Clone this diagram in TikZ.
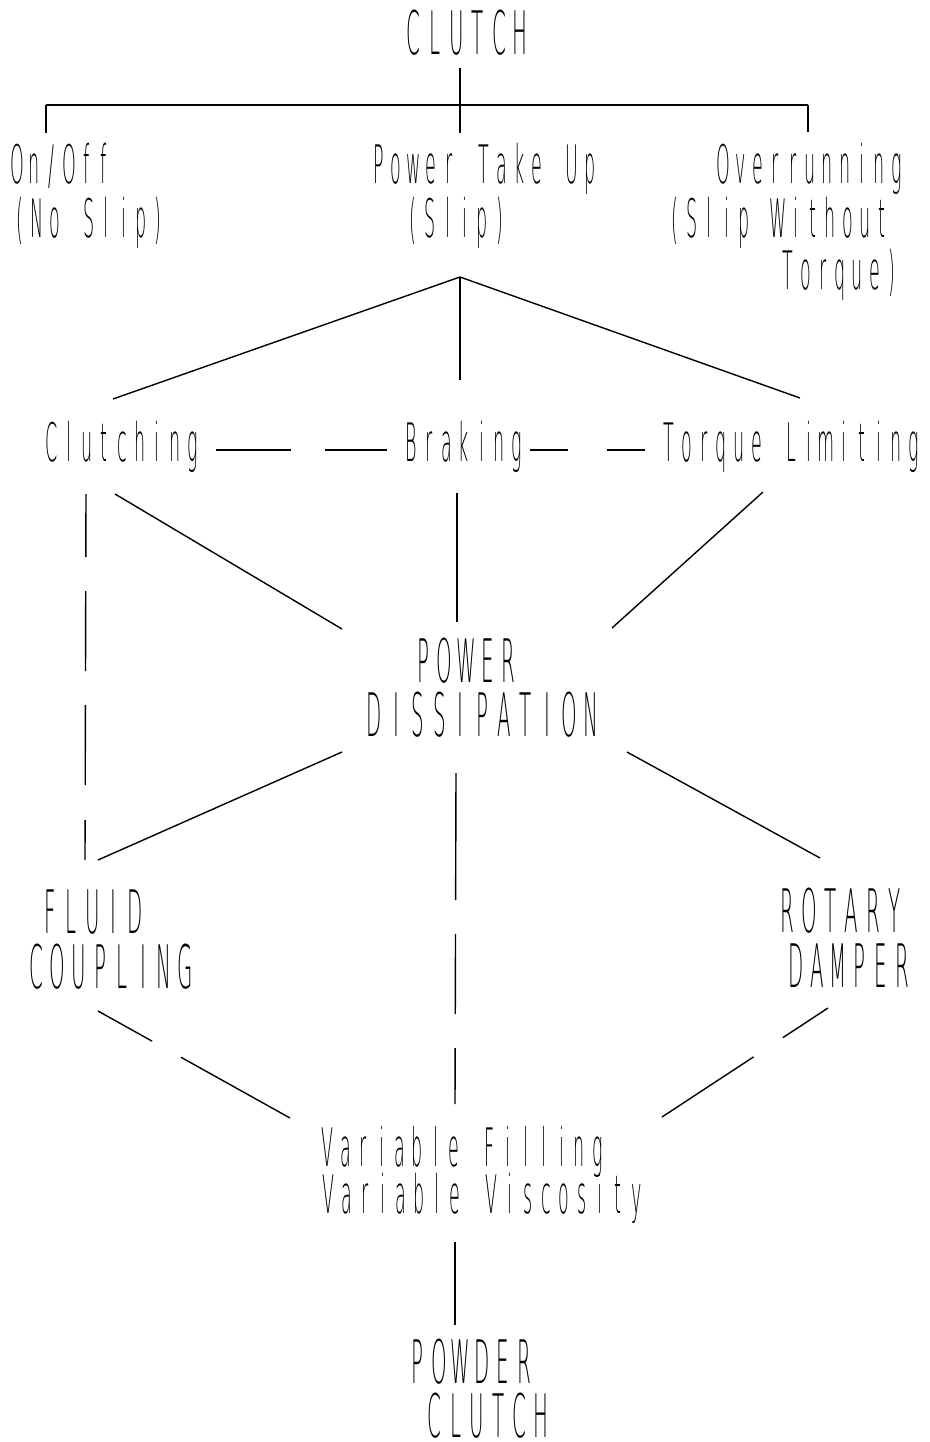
\documentclass[tikz,border=0pt]{standalone}
\usepackage{fontspec}
\newfontfamily\plotfont{DejaVu Sans ExtraLight}[FakeStretch=0.33]
\ExplSyntaxOn
\NewDocumentCommand\mono{mm}{\tl_map_inline:nn{#2}{\makebox[#1][c]{##1}}}
\ExplSyntaxOff
\begin{document}
\begin{tikzpicture}[x=1pt,y=-1pt,
  sm/.style={inner sep=0pt, anchor=base, font=\plotfont\fontsize{53}{60}\selectfont},
  bg/.style={inner sep=0pt, anchor=base, text height=44pt, text depth=0pt, font=\plotfont\fontsize{60}{66}\selectfont},
  ln/.style={line width=1.4pt, line cap=butt}]
\useasboundingbox (0,0) rectangle (929,1442);
% text nodes
\node[bg] (clutch) at (467,55) {\mono{21.3pt}{CLUTCH}};
\node[sm] (onoff1) at (60.5,184) {\mono{17.3pt}{On/Off}};
\node[sm] (onoff2) at (89,237) {\mono{17.3pt}{(No~Slip)}};
\node[sm] (pto1) at (484,184) {\mono{17.6pt}{Power~Take~Up}};
\node[sm] (pto2) at (456.5,237) {\mono{17.3pt}{(Slip)}};
\node[sm] (over1) at (810,184) {\mono{17.3pt}{Overrunning}};
\node[sm] (over2) at (778.5,237) {\mono{17.3pt}{(Slip~Without}};
\node[sm] (over3) at (840,289) {\mono{17.3pt}{Torque)}};
\node[sm] (clutching) at (122,461) {\mono{17.6pt}{Clutching}};
\node[sm] (braking) at (464,461) {\mono{17.6pt}{Braking}};
\node[sm] (torque) at (791.5,461) {\mono{17.5pt}{Torque~Limiting}};
\node[bg] (pd1) at (466,682) {\mono{21.3pt}{POWER}};
\node[bg] (pd2) at (482.5,736) {\mono{21.6pt}{DISSIPATION}};
\node[bg] (fc1) at (92.5,933) {\mono{21.3pt}{FLUID}};
\node[bg] (fc2) at (111,988) {\mono{21.3pt}{COUPLING}};
\node[bg] (rd1) at (841,932) {\mono{21.3pt}{ROTARY}};
\node[bg] (rd2) at (849,987) {\mono{21.3pt}{DAMPER}};
\node[sm, text depth=0pt] (var1) at (462.5,1166) {\mono{18pt}{Variable~Filling}};
\node[sm] (var2) at (482.5,1213) {\mono{18.1pt}{Variable~Viscosity}};
\node[bg] (pc1) at (471,1383) {\mono{21.3pt}{POWDER}};
\node[bg] (pc2) at (487.5,1437) {\mono{21.3pt}{CLUTCH}};
% connector end points
\coordinate (clutchS) at (460,68);
\coordinate (junc) at (460,105);
\coordinate (jl) at (46,105);
\coordinate (jr) at (808,105);
\coordinate (onoffN) at (46,133);
\coordinate (ptoN) at (460,133);
\coordinate (overN) at (808,132);
\coordinate (ptoS) at (460,277);
\coordinate (clutchingN) at (113,399);
\coordinate (brakingN) at (460,380);
\coordinate (torqueN) at (800,398);
\coordinate (clutchingE) at (216,450);
\coordinate (brakingW) at (387,450);
\coordinate (brakingE) at (530,450);
\coordinate (torqueW) at (645,450);
\coordinate (clutchingS) at (86,494);
\coordinate (clutchingSE) at (115,494);
\coordinate (brakingS) at (457,493);
\coordinate (torqueS) at (763,492);
\coordinate (pdNW) at (342,629);
\coordinate (pdN) at (457,622);
\coordinate (pdNE) at (612,628);
\coordinate (pdSW) at (342,752);
\coordinate (pdSE) at (627,752);
\coordinate (pdS) at (456,773);
\coordinate (fcN) at (85,860);
\coordinate (fcNE) at (98,860);
\coordinate (rdN) at (820,858);
\coordinate (fcS) at (98,1011);
\coordinate (rdS) at (828,1008);
\coordinate (varNW) at (290,1118);
\coordinate (varN) at (455,1104);
\coordinate (varNE) at (662,1117);
\coordinate (varS) at (455,1242);
\coordinate (pcN) at (455,1325);
% connectors
\draw[ln] (clutchS) -- (junc);
\draw[ln] (jl) -- (jr);
\draw[ln] (jl) -- (onoffN);
\draw[ln] (jr) -- (overN);
\draw[ln] (junc) -- (ptoN);
\draw[ln] (ptoS) -- (clutchingN);
\draw[ln] (ptoS) -- (brakingN);
\draw[ln] (ptoS) -- (torqueN);
\draw[ln, dash pattern=on 75pt off 34pt on 100pt] (clutchingE) -- (brakingW);
\draw[ln, dash pattern=on 38pt off 39pt on 60pt] (brakingE) -- (torqueW);
\draw[ln, dash pattern=on 63pt off 34pt on 80pt off 34pt on 80pt off 35pt on 60pt] (clutchingS) -- (fcN);
\draw[ln] (clutchingSE) -- (pdNW);
\draw[ln] (brakingS) -- (pdN);
\draw[ln] (torqueS) -- (pdNE);
\draw[ln] (pdSW) -- (fcNE);
\draw[ln] (pdSE) -- (rdN);
\draw[ln, dash pattern=on 127pt off 34pt on 80pt off 34pt on 80pt] (pdS) -- (varN);
\draw[ln, dash pattern=on 62pt off 33pt on 140pt] (fcS) -- (varNW);
\draw[ln, dash pattern=on 54pt off 35pt on 130pt] (rdS) -- (varNE);
\draw[ln] (varS) -- (pcN);
\end{tikzpicture}
\end{document}
